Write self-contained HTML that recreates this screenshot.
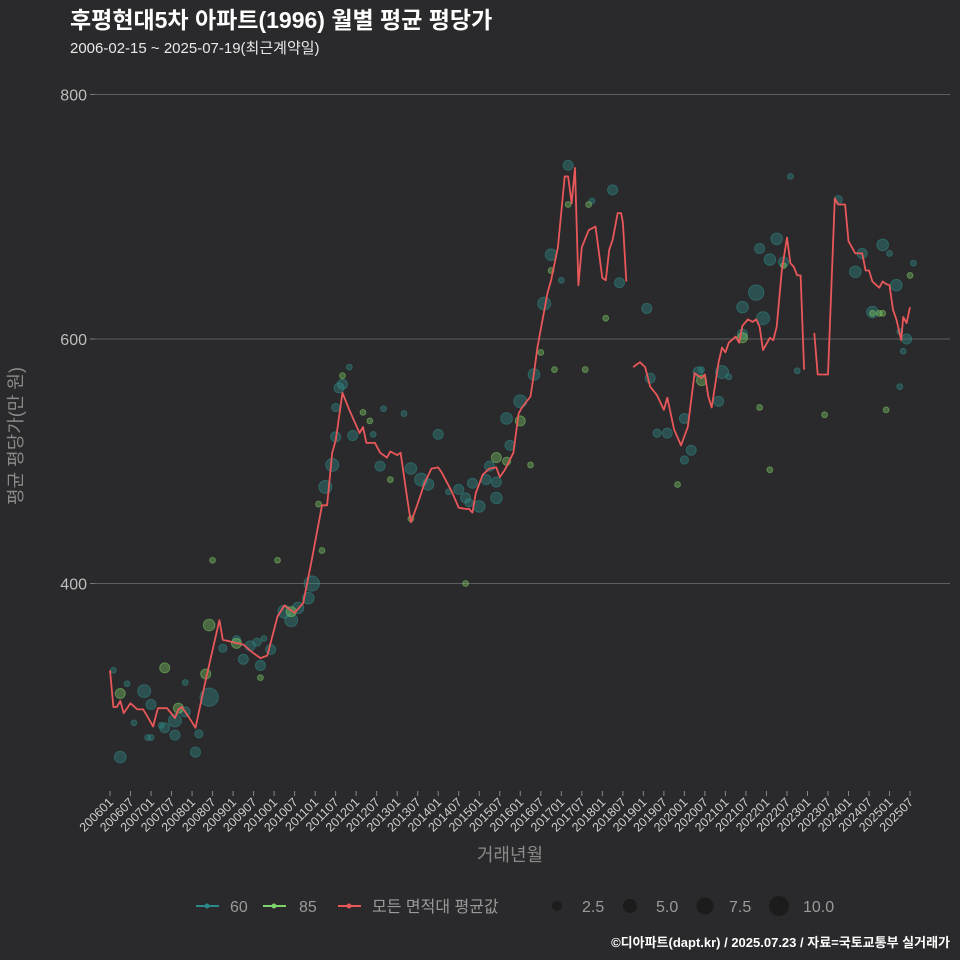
<!DOCTYPE html>
<html><head><meta charset="utf-8">
<style>
body{margin:0;background:#2a292b;}
svg{display:block;font-family:"Liberation Sans","Noto Sans CJK KR",sans-serif;}
</style></head>
<body>
<svg id="chart" width="960" height="960" viewBox="0 0 960 960">
<rect width="960" height="960" fill="#2a292b"/>
<text x="70" y="28" fill="#ffffff" font-size="23" font-weight="bold">후평현대5차 아파트(1996) 월별 평균 평당가</text>
<text x="70" y="53" fill="#e8e8e8" font-size="15">2006-02-15 ~ 2025-07-19(최근계약일)</text>
<g id="grid"></g>
<g id="yticks"></g>
<g id="xticks"></g>
<g id="points"></g>
<g id="line"></g>
<text transform="translate(22,436) rotate(-90)" text-anchor="middle" fill="#8a8a8a" font-size="18">평균 평당가(만 원)</text>
<text x="510" y="861" text-anchor="middle" fill="#8a8a8a" font-size="18">거래년월</text>
<g font-size="16" fill="#9a9a9a">
 <g><line x1="196" y1="906" x2="219" y2="906" stroke="#2a8a8a" stroke-width="2"/><circle cx="207" cy="906" r="2.5" fill="#2a8a8a"/><text x="230" y="912" fill="#9a9a9a">60</text></g>
 <g><line x1="263" y1="906" x2="286" y2="906" stroke="#7ed36a" stroke-width="2"/><circle cx="274" cy="906" r="2.5" fill="#7ed36a"/><text x="299" y="912" fill="#9a9a9a">85</text></g>
 <g><line x1="338" y1="906" x2="361" y2="906" stroke="#e8585a" stroke-width="2"/><circle cx="349" cy="906" r="2.5" fill="#e8585a"/><text x="372" y="912" fill="#9a9a9a">모든 면적대 평균값</text></g>
 <g><circle cx="557" cy="906" r="5" fill="#1c1c1d"/><text x="582" y="912" fill="#9a9a9a">2.5</text></g>
 <g><circle cx="630" cy="906" r="7" fill="#1c1c1d"/><text x="656" y="912" fill="#9a9a9a">5.0</text></g>
 <g><circle cx="705" cy="906" r="8.5" fill="#1c1c1d"/><text x="729" y="912" fill="#9a9a9a">7.5</text></g>
 <g><circle cx="779" cy="906" r="10" fill="#1c1c1d"/><text x="803" y="912" fill="#9a9a9a">10.0</text></g>
</g>
<text x="950" y="947" text-anchor="end" fill="#ffffff" font-size="13" font-weight="bold">©디아파트(dapt.kr) / 2025.07.23 / 자료=국토교통부 실거래가</text>
</svg>
<script>
const yTicks=[400,600,800];
const xTickLabels=["200601","200607","200701","200707","200801","200807","200901","200907","201001","201007","201101","201107","201201","201207","201301","201307","201401","201407","201501","201507","201601","201607","201701","201707","201801","201807","201901","201907","202001","202007","202101","202107","202201","202207","202301","202307","202401","202407","202501","202507"];
const lineMonths=[0,1,2,3,4,6,8,9.7,11,12.6,14,16.7,19,20,21,23,25,28,32,33,36,39,41.5,44,46,49,51,54,56.5,59,62,63.5,65,66,68,70,73,74,75,77.5,79,81,82,84,85,87,88,89.7,92,94,96,97,100,102,104,105,106,107,109,111,113,114,115.5,118,119.5,120.5,123,124,125,128,129,131,133,134,135,136,137,138,140,142,144,145,146,147,148.5,149.5,150,151,152,153,155,156.5,158,160,162,163,165,167,169,171,173,174,175,176,178,179,180,181,183,184,185,186.6,188,189,190,191,193,194,195,196.5,198,199,200,201,202,203,204,206,207,210,212,213,215,216,218,220,221,222,223,225,226,227,228,229,230,231.4,232,233,234];
const lineValues=[329,299,299,304,294,302,297,297,291,283,298,298,290,297,299,291,282,321,370,354,352,350,344,339,341,373,382,376,384,419,464,464,507,517,556,542,523,528,515,515,507,503,508,505,507,468,450,463,482,494,495,491,475,462,461,461,458,474,489,494,495,487,493,507,539,544,553,572,593,638,648,675,733,733,711,740,644,675,689,692,650,648,673,681,703,703,695,647,null,577,581,577,561,554,542,552,526,513,528,572,568,571,553,544,581,593,589,597,602,597,611,616,614,616,610,591,601,599,610,656,683,662,659,652,652,575,null,605,571,571,715,710,710,680,670,670,656,656,647,642,647,645,644,624,616,599,618,613,626];
const p60Months=[1,3,5,10,7,12,11,12,15,16,19,19,22,25,26,29,22,33,37,39,41,43,44,47,45,51,53,55,58,59,63,65,66,67,70,71,66,68,79,77,80,86,88,91,93,96,99,102,104,105,106,108,110,111,113,113,116,117,120,124,127,129,134,132,141,147,149,157,158,163,160,168,170,168,172,173,178,179,181,185,185,189,191,190,193,195,197,199,201,213,218,220,228,226,230,223,231,233,231,232,235];
const p60Values=[329,258,318,312,286,301,274,274,284,282,288,276,319,262,277,307,295,347,354,338,349,352,333,346,355,377,370,380,388,400,479,497,544,560,577,521,520,563,496,522,543,539,494,485,481,522,475,477,470,466,482,463,485,496,483,470,535,513,549,571,629,669,742,648,713,722,646,625,568,523,523,501,509,535,573,575,549,573,569,626,604,638,617,674,665,682,663,733,574,714,655,670,670,677,644,622,606,600,561,590,662];
const p60Sizes=[1,4,1,5,1,3,1,1,1,3,5,3,1,3,2,10,3,2,2,3,3,2,3,3,1,5,5,4,4,7,5,5,2,3,1,3,3,3,3,1,1,1,4,5,4,3,1,3,3,2,3,4,3,3,3,4,4,3,5,4,5,4,3,1,1,3,3,3,3,3,2,2,3,3,3,1,3,5,1,4,3,7,5,3,4,4,3,1,1,2,4,3,1,4,4,4,1,3,1,1,1];
const p85Months=[3,16,20,29,28,30,37,44,49,53,62,61,68,74,76,82,88,104,113,116,120,123,126,129,130,140,139,145,166,173,185,190,193,197,209,223,225,226,234,227,134];
const p85Values=[310,331,298,366,326,419,351,323,419,377,427,465,570,540,533,485,453,400,503,500,533,497,589,656,575,710,575,617,481,566,601,544,493,660,538,621,621,621,652,542,710];
const p85Sizes=[3,3,3,4,3,1,3,1,1,3,1,1,1,1,1,1,1,1,3,2,3,1,1,1,1,1,1,1,1,3,3,1,1,1,1,1,1,1,1,1,1];

const NS="http://www.w3.org/2000/svg";
const X0=110, XS=3.419, Y600=339, YS=1.2225;
function xScale(m){return X0+m*XS;}
function yScale(v){return Y600-(v-600)*YS;}
function rScale(s){return 2.9*Math.sqrt(s);}
function mk(tag,attrs,parent){const e=document.createElementNS(NS,tag);for(const k in attrs)e.setAttribute(k,attrs[k]);parent.appendChild(e);return e;}

const grid=document.getElementById('grid');
const yt=document.getElementById('yticks');
yTicks.forEach(v=>{
  const l=mk('line',{x1:95,x2:950,y1:yScale(v),y2:yScale(v),stroke:'#5e5d60','stroke-width':1},grid);
  
  
  const tk=mk('line',{x1:90,x2:95,y1:yScale(v),y2:yScale(v),stroke:'#777'},yt);
  
  
  const t=mk('text',{x:87,y:yScale(v)+6,'text-anchor':'end',fill:'#bdbdbd','font-size':16},yt);
  
  
  t.textContent=v;
});
const xt=document.getElementById('xticks');
xTickLabels.forEach((lab,i)=>{
  const x=xScale(i*6);
  const tk=mk('line',{x1:x,x2:x,y1:791,y2:796,stroke:'#888'},xt);
  
  
  const t=mk('text',{transform:`translate(${x+4},${803}) rotate(-45)`,'text-anchor':'end',fill:'#cfcfcf','font-size':12.5},xt);
  
  
  t.textContent=lab;
});
const pts=document.getElementById('points');
function drawPts(ms,vs,ss,col,name){
  ms.forEach((m,i)=>{
    const c=mk('circle',{cx:xScale(m),cy:yScale(vs[i]),r:rScale(ss[i]),fill:col,'fill-opacity':0.38,stroke:col,'stroke-opacity':0.5,'stroke-width':1},pts);
    
    
  });
}
drawPts(p60Months,p60Values,p60Sizes,'#2f8f8c','area-60');
drawPts(p85Months,p85Values,p85Sizes,'#7ecf67','area-85');
const lg=document.getElementById('line');
let d='',pen=false;
lineMonths.forEach((m,i)=>{
  const v=lineValues[i];
  if(v===null){pen=false;return;}
  d+=(pen?'L':'M')+xScale(m).toFixed(1)+','+yScale(v).toFixed(1);
  pen=true;
});
const path=mk('path',{d:d,fill:'none',stroke:'#e8585a','stroke-width':1.8,'stroke-linejoin':'round'},lg);


</script>
</body></html>
